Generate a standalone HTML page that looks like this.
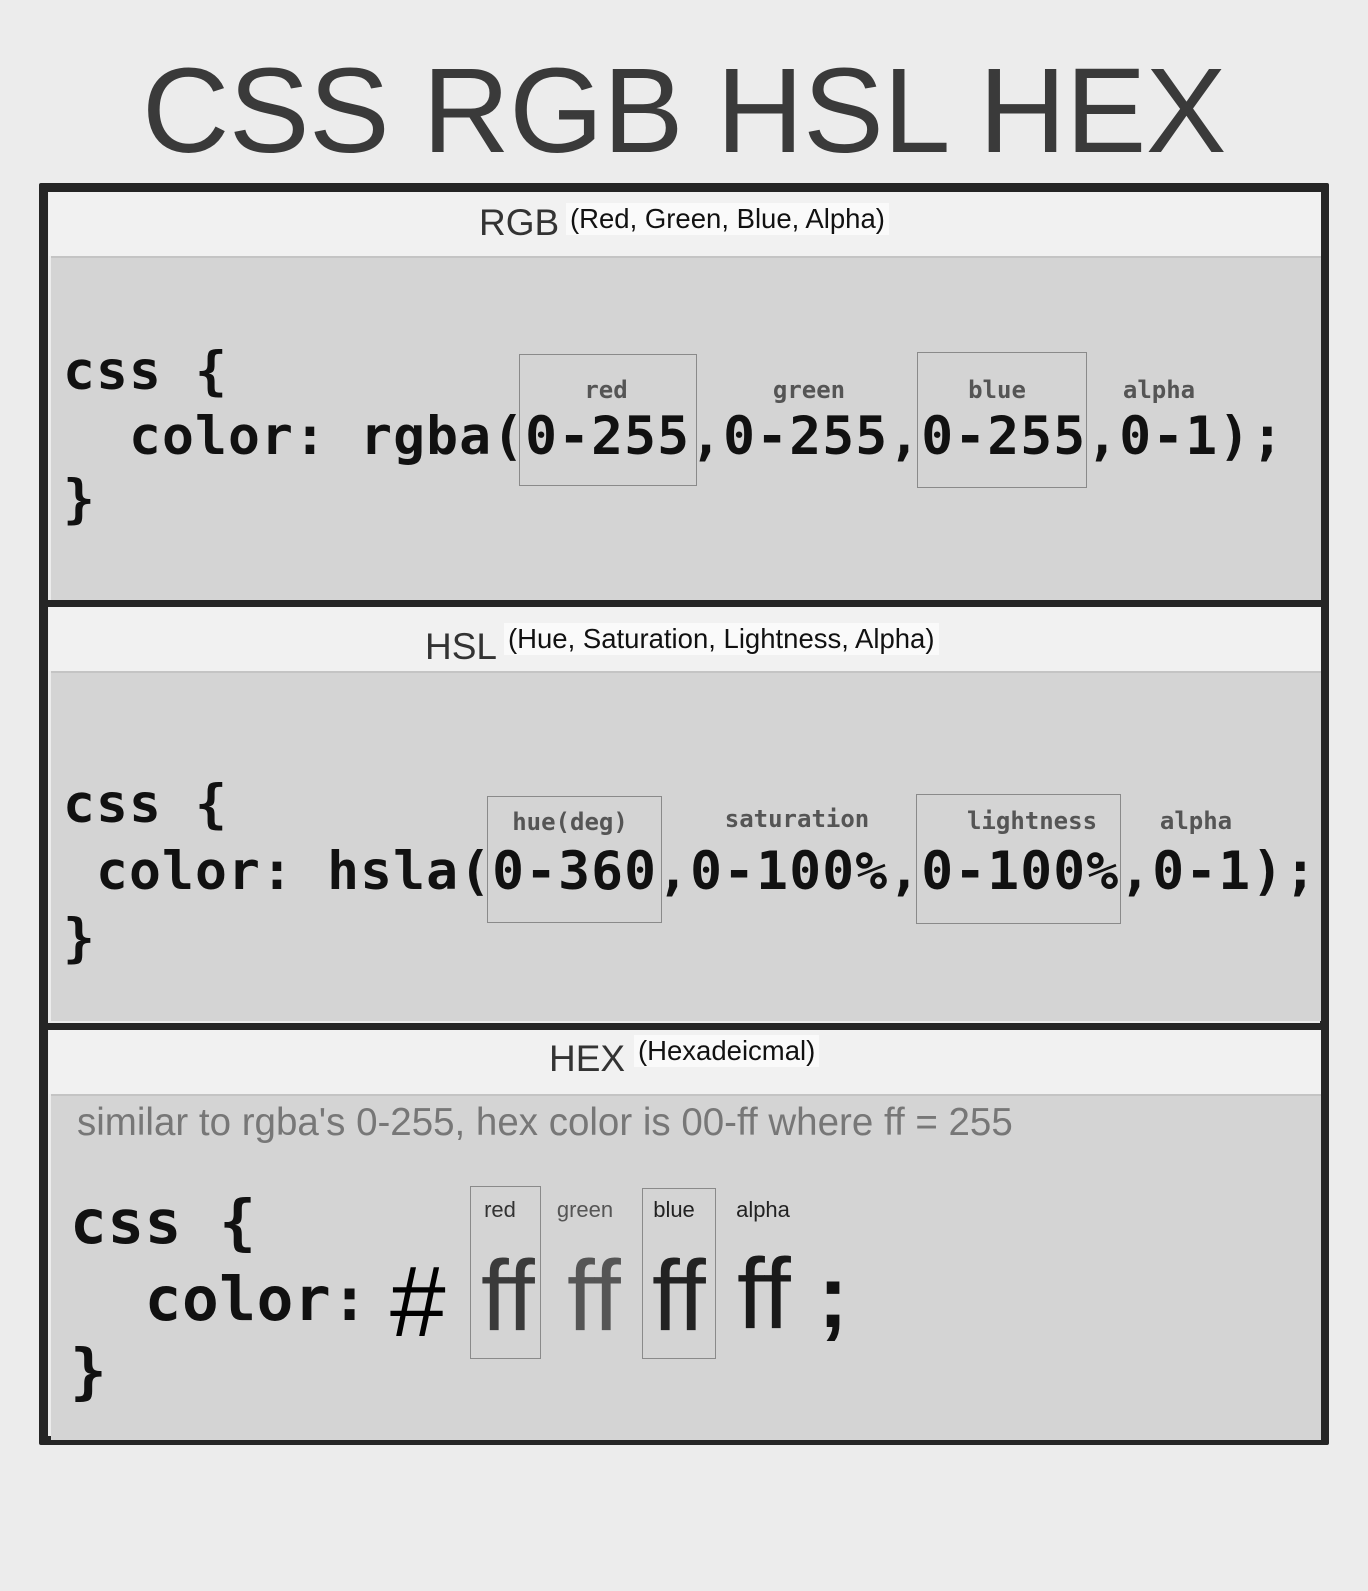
<!DOCTYPE html>
<html><head><meta charset="utf-8"><style>
*{margin:0;padding:0;box-sizing:border-box}
body{width:1368px;height:1591px;background:#ececec;position:relative;overflow:hidden;font-family:"Liberation Sans",sans-serif}
.a{position:absolute;white-space:pre;line-height:1}
.code{font-family:"DejaVu Sans Mono","Liberation Mono",monospace;font-weight:bold;color:#111;font-size:53px;letter-spacing:1.1px}
.lab{font-family:"DejaVu Sans Mono",monospace;font-weight:bold;color:#555;font-size:24px;transform:translateX(-50%)}
.box{position:absolute;border:1.5px solid #8a8a8a}
.hdr{position:absolute;left:49px;width:1272px;background:#f1f1f1}
.grey{position:absolute;left:51px;width:1270px;background:#d4d4d4;border-top:2px solid #c4c4c4}
.bar{position:absolute;left:39px;width:1290px;height:7px;background:#252525}
.sub{background:#fafafa;color:#111;font-size:27.5px;padding:2px 4px}
.hl{font-size:22px;color:#222;transform:translateX(-50%)}
.ff{font-size:100px}
</style></head><body>
<div class="a" style="left:0;width:1368px;text-align:center;top:50px;font-size:121px;color:#3a3a3a;letter-spacing:-0.5px">CSS RGB HSL HEX</div>

<div style="position:absolute;left:39px;top:183px;width:1290px;height:1262px;border:9px solid #252525;border-radius:2px"></div>

<!-- RGB -->
<div class="hdr" style="top:192px;height:64px"></div>
<div class="grey" style="top:256px;height:345px"></div>
<div class="a" style="left:479px;top:204px;font-size:37px;color:#333">RGB</div>
<div class="a sub" style="left:566px;top:203px">(Red, Green, Blue, Alpha)</div>
<div class="box" style="left:519px;top:354px;width:178px;height:132px"></div>
<div class="box" style="left:917px;top:352px;width:170px;height:136px"></div>
<div class="a lab" style="left:606px;top:378px">red</div>
<div class="a lab" style="left:809px;top:378px">green</div>
<div class="a lab" style="left:997px;top:378px">blue</div>
<div class="a lab" style="left:1159px;top:378px">alpha</div>
<div class="a code" style="left:63px;top:345px">css {</div>
<div class="a code" style="left:63px;top:410px">  color: rgba(0-255,0-255,0-255,0-1);</div>
<div class="a code" style="left:63px;top:473px">}</div>

<div class="bar" style="top:600px"></div>

<!-- HSL -->
<div class="hdr" style="top:607px;height:64px"></div>
<div class="grey" style="top:671px;height:350px"></div>
<div class="a" style="left:425px;top:628px;font-size:37px;color:#333">HSL</div>
<div class="a sub" style="left:504px;top:623px">(Hue, Saturation, Lightness, Alpha)</div>
<div class="box" style="left:487px;top:796px;width:175px;height:127px"></div>
<div class="box" style="left:916px;top:794px;width:205px;height:130px"></div>
<div class="a lab" style="left:570px;top:810px">hue(deg)</div>
<div class="a lab" style="left:797px;top:807px">saturation</div>
<div class="a lab" style="left:1032px;top:809px">lightness</div>
<div class="a lab" style="left:1196px;top:809px">alpha</div>
<div class="a code" style="left:63px;top:778px">css {</div>
<div class="a code" style="left:63px;top:845px"> color: hsla(0-360,0-100%,0-100%,0-1);</div>
<div class="a code" style="left:63px;top:912px">}</div>

<div class="bar" style="top:1023px"></div>

<!-- HEX -->
<div class="hdr" style="top:1030px;height:64px"></div>
<div class="grey" style="top:1094px;height:346px"></div>
<div class="a" style="left:549px;top:1040px;font-size:37px;color:#333">HEX</div>
<div class="a sub" style="left:634px;top:1035px">(Hexadeicmal)</div>
<div class="a" style="left:77px;top:1104px;font-size:38.5px;color:#777">similar to rgba's 0-255, hex color is 00-ff where ff = 255</div>
<div class="a code" style="left:70px;top:1192px;font-size:61px;letter-spacing:0.6px">css {</div>
<div class="a code" style="left:70px;top:1269px;font-size:61px;letter-spacing:0.6px">  color:</div>
<div class="a code" style="left:70px;top:1341px;font-size:61px">}</div>
<div class="a" style="left:390px;top:1252px;font-size:100px;color:#000">#</div>
<div class="box" style="left:470px;top:1186px;width:71px;height:173px"></div>
<div class="box" style="left:642px;top:1188px;width:74px;height:171px"></div>
<div class="a hl" style="left:500px;top:1199px;color:#333">red</div>
<div class="a hl" style="left:585px;top:1199px;color:#555">green</div>
<div class="a hl" style="left:674px;top:1199px;color:#222">blue</div>
<div class="a hl" style="left:763px;top:1199px;color:#222">alpha</div>
<div class="a ff" style="left:481px;top:1246px;color:#3a3a3a">ff</div>
<div class="a ff" style="left:567px;top:1246px;color:#555">ff</div>
<div class="a ff" style="left:652px;top:1246px;color:#222">ff</div>
<div class="a ff" style="left:737px;top:1244px;color:#1a1a1a">ff</div>
<div class="a" style="left:818px;top:1252px;font-size:90px;font-weight:bold;color:#111">;</div>
</body></html>
